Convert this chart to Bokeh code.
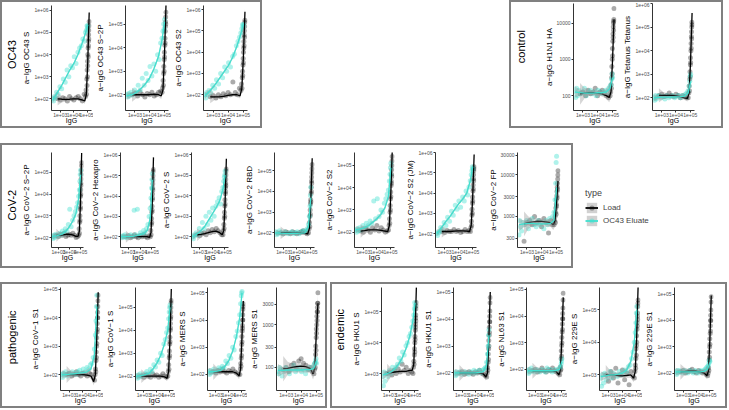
import math
from bokeh.plotting import figure
from bokeh.models import (Spacer, FixedTicker, CustomJSTickFormatter, Label,
                          Legend, LegendItem, ColumnDataSource, Range1d)
from bokeh.layouts import row, column
from bokeh.embed import file_html
from bokeh.resources import INLINE

# ---------------- data (log10 units) ----------------
LOAD_X = [2.8, 3.0, 3.18, 3.35, 3.52, 3.68, 3.84, 4.0, 4.16, 4.32, 4.48, 4.62, 4.76,
          4.86, 4.9, 4.93, 4.95, 4.97, 4.98, 5.0, 5.01, 5.02, 5.03, 5.05, 5.06, 5.07,
          5.08, 5.09, 5.1, 5.11, 5.12, 5.13]
ELUATE_X = [2.45, 2.5, 2.56, 2.63, 2.72, 2.84, 2.97, 3.1, 3.22, 3.36, 3.5, 3.63, 3.77,
            3.9, 4.03, 4.16, 4.3, 4.42, 4.55, 4.66, 4.76, 4.85, 4.92, 4.97, 5.0, 5.03]
LOAD_FIT_X = [2.8, 3.1, 3.4, 3.7, 4.0, 4.3, 4.6, 4.8, 4.92, 5.02, 5.13]
ELUATE_FIT_X = [2.45, 2.8, 3.1, 3.4, 3.7, 4.0, 4.3, 4.6, 4.85, 5.03]
LOAD_BAND = [0.3, 0.15, 0.09, 0.07, 0.07, 0.07, 0.09, 0.13, 0.15, 0.15, 0.2]
ELUATE_BAND = [0.15, 0.08, 0.06, 0.06, 0.06, 0.06, 0.07, 0.08, 0.12, 0.15]
X_LIM = (2.35, 5.3)
X_TICKS = [1e3, 1e4, 1e5]

OC43_S_LOAD = [2.0,1.95,2.05,2.0,1.9,2.1,2.0,1.95,2.05,2.1,2.0,1.9,2.2, 2.1,2.4,2.2,2.9,2.6,3.3,3.0,3.7,3.5,4.0,4.3,3.9,4.6,4.4,4.9,5.1,4.7,5.3,5.5]
OC43_S_ELUATE = [2.0,1.9,2.1,2.05,2.3,2.2,2.55,2.45,2.9,2.75,3.3,3.0,3.5,3.4,3.9,3.6,4.1,4.3,4.4,4.7,4.6,5.0,5.1,5.3,5.2,5.3]
OC43_S_LOAD_FIT = [2.0,1.98,1.97,1.98,2.0,2.0,1.95,1.9,2.2,3.6,5.9]
OC43_S_ELUATE_FIT = [1.95,2.3,2.6,2.95,3.3,3.6,4.0,4.5,4.95,5.35]

OC43_S2P_LOAD = [2.0,2.05,1.95,2.1,2.0,1.9,2.05,2.0,2.1,1.95,2.0,2.1,2.15, 2.1,2.3,2.6,2.4,2.9,3.2,3.0,3.5,3.8,3.6,4.1,4.4,4.2,4.7,4.9,5.1,5.3,5.0,5.5]
OC43_S2P_ELUATE = [2.0,1.9,2.05,1.95,2.1,2.0,2.2,2.1,2.4,2.2,2.7,2.4,2.9,2.6,3.2,2.8,3.3,3.0,3.7,3.5,4.2,4.4,4.7,5.0,4.8,5.2]
OC43_S2P_LOAD_FIT = [2.0,2.0,2.0,2.0,2.0,2.02,2.0,1.95,2.2,3.6,5.85]
OC43_S2P_ELUATE_FIT = [1.95,2.0,2.1,2.25,2.45,2.7,3.1,3.6,4.3,5.1]

OC43_S2_LOAD = [1.9,1.95,1.85,2.0,1.9,2.05,1.95,2.1,2.0,2.6,2.1,2.0,2.3, 2.2,2.5,2.3,2.8,3.1,2.9,3.4,3.7,3.5,4.0,4.2,4.5,4.3,4.8,5.0,4.7,5.2,5.4,5.5]
OC43_S2_ELUATE = [2.0,1.85,2.1,2.0,2.2,2.1,2.45,2.3,2.7,2.5,3.0,2.8,3.3,3.1,3.5,3.3,3.8,3.9,4.3,4.5,4.7,4.9,5.1,5.3,5.2,5.3]
OC43_S2_LOAD_FIT = [1.9,1.9,1.9,1.92,1.97,2.0,2.0,1.95,2.3,3.7,5.9]
OC43_S2_ELUATE_FIT = [1.95,2.2,2.45,2.75,3.05,3.35,3.75,4.3,4.85,5.35]

H1N1_HA_LOAD = [2.05,2.1,2.0,2.15,2.05,2.1,2.2,2.0,2.1,2.15,2.05,2.0,1.95, 2.0,2.1,2.3,2.2,2.5,2.8,2.6,3.0,3.3,3.1,3.5,3.7,3.6,3.9,4.0,3.8,4.05,4.1,4.4]
H1N1_HA_ELUATE = [2.1,1.95,2.2,2.0,2.15,2.05,2.1,2.2,2.0,2.1,2.15,2.05,2.1,2.0,2.15,2.1,2.05,2.1,2.15,2.1,2.2,2.25,2.3,2.45,2.6,2.5]
H1N1_HA_LOAD_FIT = [2.05,2.07,2.08,2.08,2.07,2.05,2.0,1.95,2.1,2.9,4.1]
H1N1_HA_ELUATE_FIT = [2.1,2.08,2.07,2.07,2.07,2.08,2.08,2.1,2.2,2.5]

TETANUS_LOAD = [2.1,2.15,2.05,2.1,2.2,2.1,2.05,2.15,2.1,2.0,2.1,2.05,2.0, 2.0,2.2,2.5,2.3,2.8,3.1,2.9,3.4,3.7,3.5,4.0,4.3,4.1,4.6,4.8,4.5,5.0,5.2,5.1]
TETANUS_ELUATE = [2.0,1.9,2.1,1.95,2.05,2.1,2.0,2.05,1.95,2.1,2.0,2.05,2.1,2.0,2.05,2.1,2.0,2.1,2.05,2.15,2.2,2.3,2.5,2.7,2.9,3.0]
TETANUS_LOAD_FIT = [2.1,2.1,2.1,2.1,2.08,2.05,2.0,1.97,2.2,3.5,5.6]
TETANUS_ELUATE_FIT = [2.0,2.02,2.03,2.03,2.03,2.04,2.05,2.07,2.2,2.7]

COV2_S2P_LOAD = [2.1,2.05,2.15,2.1,2.2,2.05,2.1,2.15,2.1,2.2,2.1,2.0,2.05, 2.1,2.4,2.2,2.7,3.0,2.8,3.3,3.6,3.4,3.9,4.2,4.0,4.5,4.7,4.4,4.9,5.1,5.3,5.45]
COV2_S2P_ELUATE = [2.05,1.95,2.1,2.0,2.15,2.05,2.1,2.2,2.1,2.3,2.2,2.4,2.3,2.6,3.3,2.5,2.8,3.0,3.2,3.4,3.6,3.9,4.2,4.6,4.9,5.1]
COV2_S2P_LOAD_FIT = [2.1,2.1,2.12,2.15,2.15,2.12,2.05,2.05,2.3,3.6,5.9]
COV2_S2P_ELUATE_FIT = [2.05,2.08,2.12,2.18,2.3,2.5,2.75,3.1,3.8,4.9]

COV2_HEXAPRO_LOAD = [2.0,2.05,1.95,2.0,2.1,2.0,1.95,2.05,2.0,2.1,2.0,1.95,2.05, 2.0,2.3,2.1,2.6,2.9,2.7,3.2,3.5,3.3,3.8,4.1,3.9,4.4,4.6,4.3,4.8,5.0,5.2,5.3]
COV2_HEXAPRO_ELUATE = [2.0,1.95,2.05,2.0,2.1,1.95,2.0,2.05,2.1,2.0,3.3,2.1,3.35,2.05,2.2,2.1,2.3,2.2,2.4,2.6,3.0,3.4,3.9,4.4,4.8,5.1]
COV2_HEXAPRO_LOAD_FIT = [2.0,2.0,2.0,2.0,2.0,2.0,2.0,1.97,2.2,3.5,5.9]
COV2_HEXAPRO_ELUATE_FIT = [2.0,2.0,2.0,2.02,2.05,2.1,2.15,2.3,2.9,4.8]

COV2_S_LOAD = [2.1,2.05,2.15,2.2,2.1,2.3,2.2,2.35,2.25,2.4,2.3,2.2,2.1, 2.1,2.3,2.6,2.4,2.9,3.2,3.0,3.5,3.8,3.6,4.1,4.4,4.2,4.6,4.8,4.5,5.0,5.2,5.3]
COV2_S_ELUATE = [2.0,1.9,2.1,2.05,2.2,2.1,2.4,2.2,2.7,2.4,3.0,2.6,3.2,2.8,3.4,3.0,3.5,3.7,3.9,3.6,4.2,4.4,4.7,4.9,5.0,5.2]
COV2_S_LOAD_FIT = [2.1,2.12,2.15,2.2,2.25,2.28,2.2,2.1,2.3,3.5,5.8]
COV2_S_ELUATE_FIT = [2.0,2.15,2.3,2.5,2.8,3.1,3.4,3.75,4.3,5.0]

COV2_RBD_LOAD = [2.0,1.95,2.05,2.0,1.95,2.05,2.0,1.95,2.0,2.05,2.1,2.0,1.95, 2.0,2.2,2.5,2.3,2.8,3.1,2.9,3.4,3.6,3.5,3.9,4.2,4.0,4.5,4.7,4.4,4.9,5.1,5.3]
COV2_RBD_ELUATE = [2.05,1.9,2.0,1.95,2.1,2.0,1.95,2.05,2.0,1.95,2.0,2.05,1.95,2.0,2.05,1.95,2.0,2.1,2.05,2.1,2.2,2.4,2.8,3.3,3.8,4.2]
COV2_RBD_LOAD_FIT = [2.0,2.0,1.99,1.98,1.98,1.98,1.97,1.95,2.2,3.4,5.6]
COV2_RBD_ELUATE_FIT = [2.0,1.98,1.97,1.97,1.97,1.97,1.98,2.0,2.3,3.7]

COV2_S2_LOAD = [2.05,2.0,2.15,2.1,2.0,2.2,2.1,2.3,2.05,2.2,2.1,2.0,2.05, 2.1,2.3,2.6,2.4,2.9,3.2,3.0,3.5,3.8,3.6,4.1,4.3,4.2,4.6,4.8,4.5,5.0,5.2,5.4]
COV2_S2_ELUATE = [2.1,2.0,2.15,2.05,2.2,2.1,2.3,2.2,2.4,2.3,2.5,2.4,3.4,2.6,3.5,2.7,3.0,2.9,3.3,3.5,3.7,3.9,4.3,4.6,4.9,5.1]
COV2_S2_LOAD_FIT = [2.05,2.07,2.1,2.1,2.1,2.08,2.05,2.02,2.3,3.6,5.6]
COV2_S2_ELUATE_FIT = [2.1,2.15,2.2,2.3,2.45,2.6,2.8,3.1,3.6,4.9]

COV2_S2JM_LOAD = [2.1,2.05,2.15,2.1,2.1,2.2,2.1,2.15,2.05,2.1,2.2,2.1,2.15, 2.1,2.3,2.6,2.4,2.9,3.2,3.0,3.5,3.8,3.6,4.1,4.4,4.2,4.7,4.9,4.6,5.1,5.2,5.3]
COV2_S2JM_ELUATE = [2.0,1.9,2.1,2.05,2.3,2.2,2.55,2.4,2.8,2.6,3.1,2.9,3.4,3.2,3.6,3.3,3.8,3.6,4.1,3.9,4.3,4.6,4.9,5.1,5.3,5.2]
COV2_S2JM_LOAD_FIT = [2.1,2.1,2.1,2.12,2.13,2.13,2.12,2.1,2.4,3.7,5.9]
COV2_S2JM_ELUATE_FIT = [2.0,2.3,2.6,2.85,3.15,3.45,3.7,4.0,4.6,5.3]

COV2_FP_LOAD = [2.4,2.85,2.9,2.8,3.0,2.85,2.9,2.75,2.95,2.85,2.6,2.9,2.8, 2.8,2.9,3.0,2.85,3.1,3.2,3.05,3.3,3.4,3.25,3.5,3.6,3.45,3.7,3.8,3.65,3.9,4.0,4.1]
COV2_FP_ELUATE = [2.55,2.9,2.75,2.65,2.85,2.8,2.9,2.7,2.85,2.95,2.8,2.75,2.9,2.8,2.85,2.7,2.9,2.8,2.95,2.85,3.0,3.1,3.4,3.8,4.3,4.45]
COV2_FP_LOAD_FIT = [2.82,2.85,2.87,2.88,2.88,2.87,2.85,2.8,2.9,3.3,3.85]
COV2_FP_ELUATE_FIT = [2.8,2.82,2.83,2.83,2.82,2.82,2.82,2.83,2.9,3.7]

COV1_S1_LOAD = [2.0,2.05,1.95,2.0,2.1,2.0,1.95,2.05,2.0,1.95,2.05,2.0,1.9, 1.8,2.0,2.2,2.1,2.5,2.8,2.6,3.0,3.3,3.1,3.5,3.8,3.6,4.0,4.2,4.0,4.4,4.6,4.8]
COV1_S1_ELUATE = [2.0,1.9,2.05,2.0,2.1,1.95,2.05,2.0,2.1,2.05,2.0,2.1,2.15,2.05,2.2,2.1,2.25,2.2,2.35,2.4,2.6,2.9,3.4,3.9,4.4,4.8]
COV1_S1_LOAD_FIT = [2.0,2.0,2.0,2.0,2.0,1.98,1.95,1.75,2.0,3.2,4.9]
COV1_S1_ELUATE_FIT = [2.0,2.0,2.02,2.03,2.05,2.07,2.1,2.2,2.7,4.4]

COV1_S_LOAD = [2.0,1.95,2.05,2.0,1.95,2.1,2.0,2.05,1.95,2.0,2.1,2.0,1.95, 2.0,2.2,2.5,2.3,2.8,3.1,2.9,3.4,3.7,3.5,4.0,4.3,4.1,4.5,4.8,4.6,5.0,5.2,5.3]
COV1_S_ELUATE = [2.0,1.9,2.05,1.95,2.1,2.0,2.05,2.1,2.2,2.1,2.3,2.2,2.5,2.4,2.7,2.6,3.0,2.9,3.4,3.6,3.9,4.1,4.5,4.8,5.0,5.1]
COV1_S_LOAD_FIT = [2.0,2.0,2.0,2.0,2.0,2.0,1.97,1.9,2.2,3.5,5.8]
COV1_S_ELUATE_FIT = [2.0,2.02,2.06,2.12,2.3,2.55,2.9,3.4,4.0,5.0]

MERS_S_LOAD = [2.1,2.05,2.15,2.1,2.2,2.1,2.05,2.15,2.1,2.2,2.1,2.05,2.0, 2.0,2.2,2.4,2.3,2.6,2.9,2.7,3.1,3.4,3.2,3.6,3.8,3.7,4.0,4.2,4.0,4.4,4.5,4.6]
MERS_S_ELUATE = [2.1,2.0,2.15,2.05,2.1,2.2,2.1,2.15,2.25,2.2,2.3,2.25,2.5,2.4,2.7,2.6,3.0,2.9,3.4,3.6,3.9,4.2,4.6,4.9,5.0,5.05]
MERS_S_LOAD_FIT = [2.1,2.1,2.1,2.1,2.1,2.1,2.05,1.95,2.2,3.3,4.7]
MERS_S_ELUATE_FIT = [2.1,2.1,2.12,2.15,2.3,2.5,2.85,3.4,4.1,5.0]

MERS_S1_LOAD = [1.95,2.0,1.9,2.05,2.1,2.0,2.15,2.2,2.1,2.05,1.95,2.0,1.9, 1.85,1.95,2.1,2.0,2.3,2.5,2.4,2.7,2.9,2.8,3.0,3.2,3.1,3.3,3.4,3.3,3.5,3.5,3.75]
MERS_S1_ELUATE = [1.9,1.85,2.0,1.95,1.8,1.9,2.0,1.95,1.85,1.95,2.05,1.9,1.95,2.0,1.9,1.95,1.85,1.95,2.0,1.95,2.0,2.05,2.1,2.15,2.2,2.1]
MERS_S1_LOAD_FIT = [1.97,1.98,2.0,2.02,2.03,2.02,1.98,1.85,2.0,2.8,3.5]
MERS_S1_ELUATE_FIT = [1.93,1.93,1.94,1.94,1.94,1.94,1.95,1.95,1.98,2.15]

HKU1_S_LOAD = [3.0,3.05,2.95,3.1,3.0,3.15,3.05,3.3,3.1,3.2,3.0,3.1,3.05, 3.0,3.2,3.4,3.3,3.6,3.8,3.7,4.0,4.2,4.1,4.4,4.6,4.5,4.8,4.9,4.7,5.1,5.2,5.3]
HKU1_S_ELUATE = [2.9,2.6,3.05,2.75,3.0,2.9,3.1,3.0,3.2,3.1,3.2,3.3,3.5,3.4,3.7,3.6,3.9,4.0,4.2,4.3,4.5,4.7,4.9,5.1,5.3,5.2]
HKU1_S_LOAD_FIT = [3.02,3.03,3.05,3.06,3.07,3.07,3.1,3.1,3.3,4.2,5.8]
HKU1_S_ELUATE_FIT = [2.95,3.0,3.05,3.15,3.3,3.5,3.8,4.2,4.7,5.3]

HKU1_S1_LOAD = [2.0,2.05,1.95,2.0,2.05,2.0,1.95,2.05,2.0,2.1,2.0,1.95,1.9, 1.85,2.0,2.2,2.1,2.4,2.7,2.5,2.9,3.2,3.0,3.4,3.7,3.5,3.9,4.1,3.9,4.3,4.6,4.8]
HKU1_S1_ELUATE = [2.0,1.9,2.05,1.95,2.0,2.05,1.95,2.0,2.05,2.0,1.95,2.05,2.0,2.1,2.0,2.05,2.1,2.0,2.1,2.15,2.2,2.4,2.7,3.0,3.4,3.6]
HKU1_S1_LOAD_FIT = [2.0,2.0,2.0,2.0,2.0,2.0,1.97,1.85,2.0,3.2,5.0]
HKU1_S1_ELUATE_FIT = [2.0,2.0,2.0,2.0,2.0,2.0,2.02,2.05,2.3,3.4]

NL63_S1_LOAD = [1.95,2.0,1.9,1.95,2.05,1.95,1.9,2.0,1.95,2.05,1.95,1.9,1.85, 1.8,1.95,2.1,2.0,2.4,2.7,2.5,2.9,3.2,3.0,3.4,3.7,3.5,3.9,4.1,3.9,4.3,4.6,4.85]
NL63_S1_ELUATE = [1.95,1.85,2.0,1.9,2.05,1.95,1.9,2.0,1.95,1.9,2.0,1.95,1.9,2.05,1.95,2.0,1.9,1.95,2.0,1.95,2.0,2.05,2.1,2.2,2.3,2.4]
NL63_S1_LOAD_FIT = [1.95,1.95,1.95,1.95,1.95,1.95,1.92,1.8,2.0,3.1,4.7]
NL63_S1_ELUATE_FIT = [1.95,1.95,1.95,1.95,1.95,1.95,1.95,1.96,2.0,2.3]

E229_S_LOAD = [3.0,2.8,3.1,2.9,3.2,2.75,3.0,3.15,2.85,3.05,2.7,3.1,2.95, 2.9,3.1,3.3,3.2,3.5,3.8,3.6,3.9,4.2,4.0,4.4,4.6,4.5,4.8,4.9,4.7,5.1,5.2,5.3]
E229_S_ELUATE = [2.9,2.65,3.0,2.75,3.05,2.85,2.95,3.1,2.9,3.05,3.0,2.95,3.1,3.0,3.05,3.15,3.1,3.25,3.3,3.5,3.7,4.0,4.3,4.6,4.9,5.1]
E229_S_LOAD_FIT = [3.0,3.0,3.0,2.98,2.97,2.98,3.0,2.9,3.1,4.1,5.75]
E229_S_ELUATE_FIT = [2.95,2.97,3.0,3.0,3.02,3.05,3.15,3.4,4.0,5.0]

E229_S1_LOAD = [2.05,2.1,2.0,2.05,2.1,2.15,2.05,2.0,2.1,2.05,2.0,2.05,1.95, 1.9,2.0,2.2,2.1,2.5,2.8,2.6,3.0,3.3,3.1,3.5,3.8,3.6,4.0,4.2,4.0,4.4,4.7,4.9]
E229_S1_ELUATE = [2.05,1.95,2.1,2.0,2.1,2.05,2.0,2.1,2.05,2.0,2.1,2.05,2.0,2.1,2.05,2.0,2.1,2.05,2.1,2.15,2.2,2.25,2.3,2.4,2.5,2.45]
E229_S1_LOAD_FIT = [2.05,2.06,2.07,2.07,2.07,2.05,2.0,1.9,2.1,3.2,4.95]
E229_S1_ELUATE_FIT = [2.05,2.05,2.05,2.05,2.05,2.05,2.05,2.07,2.15,2.4]

EXP6 = [1e2, 1e3, 1e4, 1e5, 1e6]
EXP5 = [1e2, 1e3, 1e4, 1e5]
EXP345 = [1e3, 1e4, 1e5]

# y label, load, eluate, load fit, eluate fit, y limits (log10), ticks, label style
PANELS = {
    "OC43_S": ("a\u2212IgG OC43 S", OC43_S_LOAD, OC43_S_ELUATE, OC43_S_LOAD_FIT, OC43_S_ELUATE_FIT, (1.47, 6.22), EXP6, "exp"),
    "OC43_S2P": ("a\u2212IgG OC43 S\u22122P", OC43_S2P_LOAD, OC43_S2P_ELUATE, OC43_S2P_LOAD_FIT, OC43_S2P_ELUATE_FIT, (1.33, 5.79), EXP5, "exp"),
    "OC43_S2": ("a\u2212IgG OC43 S2", OC43_S2_LOAD, OC43_S2_ELUATE, OC43_S2_LOAD_FIT, OC43_S2_ELUATE_FIT, (1.26, 6.19), EXP6, "exp"),
    "H1N1_HA": ("a\u2212IgG H1N1 HA", H1N1_HA_LOAD, H1N1_HA_ELUATE, H1N1_HA_LOAD_FIT, H1N1_HA_ELUATE_FIT, (1.59, 4.54), [100, 1000, 10000], "plain"),
    "TETANUS": ("a\u2212IgG Tetanus Tetanus", TETANUS_LOAD, TETANUS_ELUATE, TETANUS_LOAD_FIT, TETANUS_ELUATE_FIT, (1.46, 6.0), EXP6, "exp"),
    "COV2_S2P": ("a\u2212IgG CoV\u22122 S\u22122P", COV2_S2P_LOAD, COV2_S2P_ELUATE, COV2_S2P_LOAD_FIT, COV2_S2P_ELUATE_FIT, (1.54, 5.92), EXP5, "exp"),
    "COV2_HEXAPRO": ("a\u2212IgG CoV\u22122 Hexapro", COV2_HEXAPRO_LOAD, COV2_HEXAPRO_ELUATE, COV2_HEXAPRO_LOAD_FIT, COV2_HEXAPRO_ELUATE_FIT, (1.47, 6.14), EXP6, "exp"),
    "COV2_S": ("a\u2212IgG CoV\u22122 S", COV2_S_LOAD, COV2_S_ELUATE, COV2_S_LOAD_FIT, COV2_S_ELUATE_FIT, (1.48, 6.1), EXP6, "exp"),
    "COV2_RBD": ("a\u2212IgG CoV\u22122 RBD", COV2_RBD_LOAD, COV2_RBD_ELUATE, COV2_RBD_LOAD_FIT, COV2_RBD_ELUATE_FIT, (1.29, 5.88), EXP5, "exp"),
    "COV2_S2": ("a\u2212IgG CoV\u22122 S2", COV2_S2_LOAD, COV2_S2_ELUATE, COV2_S2_LOAD_FIT, COV2_S2_ELUATE_FIT, (1.31, 5.58), EXP5, "exp"),
    "COV2_S2JM": ("a\u2212IgG CoV\u22122 S2 (JM)", COV2_S2JM_LOAD, COV2_S2JM_ELUATE, COV2_S2JM_LOAD_FIT, COV2_S2JM_ELUATE_FIT, (1.31, 6.0), EXP6, "exp"),
    "COV2_FP": ("a\u2212IgG CoV\u22122 FP", COV2_FP_LOAD, COV2_FP_ELUATE, COV2_FP_LOAD_FIT, COV2_FP_ELUATE_FIT, (2.25, 4.54), [300, 1000, 3000, 10000, 30000], "plain"),
    "COV1_S1": ("a\u2212IgG CoV\u22121 S1", COV1_S1_LOAD, COV1_S1_ELUATE, COV1_S1_LOAD_FIT, COV1_S1_ELUATE_FIT, (1.44, 5.07), EXP5, "exp"),
    "COV1_S": ("a\u2212IgG CoV\u22121 S", COV1_S_LOAD, COV1_S_ELUATE, COV1_S_LOAD_FIT, COV1_S_ELUATE_FIT, (1.37, 5.87), EXP5, "exp"),
    "MERS_S": ("a\u2212IgG MERS S", MERS_S_LOAD, MERS_S_ELUATE, MERS_S_LOAD_FIT, MERS_S_ELUATE_FIT, (1.41, 5.2), EXP5, "exp"),
    "MERS_S1": ("a\u2212IgG MERS S1", MERS_S1_LOAD, MERS_S1_ELUATE, MERS_S1_LOAD_FIT, MERS_S1_ELUATE_FIT, (1.46, 3.87), [100, 300, 1000, 3000], "plain"),
    "HKU1_S": ("a\u2212IgG HKU1 S", HKU1_S_LOAD, HKU1_S_ELUATE, HKU1_S_LOAD_FIT, HKU1_S_ELUATE_FIT, (2.45, 5.79), EXP345, "exp"),
    "HKU1_S1": ("a\u2212IgG HKU1 S1", HKU1_S1_LOAD, HKU1_S1_ELUATE, HKU1_S1_LOAD_FIT, HKU1_S1_ELUATE_FIT, (1.35, 5.17), EXP5, "exp"),
    "NL63_S1": ("a\u2212IgG NL63 S1", NL63_S1_LOAD, NL63_S1_ELUATE, NL63_S1_LOAD_FIT, NL63_S1_ELUATE_FIT, (1.21, 5.07), EXP5, "exp"),
    "E229_S": ("a\u2212IgG 229E S", E229_S_LOAD, E229_S_ELUATE, E229_S_LOAD_FIT, E229_S_ELUATE_FIT, (2.52, 5.68), EXP345, "exp"),
    "E229_S1": ("a\u2212IgG 229E S1", E229_S1_LOAD, E229_S1_ELUATE, E229_S1_LOAD_FIT, E229_S1_ELUATE_FIT, (1.34, 5.25), EXP5, "exp"),
}

# ---------------- layout (pixel geometry) ----------------
PAGE_W, PAGE_H = 727, 408

# panel: (y-axis x, frame right, frame top, frame bottom)
GEOM = {
    "OC43_S": (43, 91, 5, 112), "OC43_S2P": (120, 168, 5, 112), "OC43_S2": (198, 247, 5, 112),
    "H1N1_HA": (568, 616, 3, 112), "TETANUS": (647, 694, 3, 112),
    "COV2_S2P": (43, 83, 152, 247), "COV2_HEXAPRO": (115, 155, 150, 247), "COV2_S": (186, 228, 150, 247),
    "COV2_RBD": (269, 314, 145, 255), "COV2_S2": (349, 394, 145, 255), "COV2_S2JM": (430, 476, 145, 254),
    "COV2_FP": (512, 560, 145, 256),
    "COV1_S1": (55, 100, 285, 395), "COV1_S": (130, 173, 287, 395), "MERS_S": (198, 245, 285, 395),
    "MERS_S1": (268, 320, 284, 395),
    "HKU1_S": (373, 418, 287, 397), "HKU1_S1": (448, 492, 285, 397), "NL63_S1": (518, 565, 284, 397),
    "E229_S": (593, 640, 285, 397), "E229_S1": (668, 713, 285, 397),
}
GROUPS = {
    "OC43": dict(box=(0, 262, 0, 128), at=(11, 60), panels=["OC43_S", "OC43_S2P", "OC43_S2"]),
    "control": dict(box=(509, 723, 0, 128), at=(520, 52), panels=["H1N1_HA", "TETANUS"]),
    "CoV-2": dict(box=(0, 573, 143, 268), at=(11, 212),
                  panels=["COV2_S2P", "COV2_HEXAPRO", "COV2_S", "COV2_RBD", "COV2_S2", "COV2_S2JM", "COV2_FP"]),
    "pathogenic": dict(box=(0, 327, 282, 408), at=(11, 343), panels=["COV1_S1", "COV1_S", "MERS_S", "MERS_S1"]),
    "endemic": dict(box=(330, 727, 282, 408), at=(339, 334), panels=["HKU1_S", "HKU1_S1", "NL63_S1", "E229_S", "E229_S1"]),
}

FONT = "Liberation Sans"
TURQ = "#40E0D0"
BAND_COLOR = "#999999"
BORDER = "#808080"
T = 2
LEFT_SPACE = 27
LABEL_MIN_W = 17
PT = 5
LW = 1.3

EXP_FMT = "const e = Math.round(Math.log10(tick)); return '1e+' + (e < 10 ? '0' : '') + e;"
PLAIN_FMT = "return String(Math.round(tick));"


def bar(w, h):
    return Spacer(width=w, height=h, styles={"background-color": BORDER})


def style_axis(ax, label_size):
    ax.axis_line_color = "black"
    ax.axis_line_width = 0.8
    ax.major_tick_line_color = "#333333"
    ax.major_tick_out = 2
    ax.major_tick_in = 0
    ax.minor_tick_line_color = None
    ax.major_label_text_font = FONT
    ax.major_label_text_font_size = "5px"
    ax.major_label_text_color = "#4d4d4d"
    ax.major_label_text_line_height = 1.0
    ax.major_label_standoff = 1
    ax.axis_label_text_font = FONT
    ax.axis_label_text_font_size = label_size
    ax.axis_label_text_font_style = "normal"
    ax.axis_label_text_color = "#000000"
    ax.axis_label_text_line_height = 1.0
    ax.axis_label_standoff = 0


def panel_fig(name, w, h, ml, mr, mt, mb):
    ylab, load, elu, lfit, efit, ylim, ticks, style = PANELS[name]
    p = figure(width=w, height=h, x_axis_type="log", y_axis_type="log", title=None,
               x_range=Range1d(10 ** X_LIM[0], 10 ** X_LIM[1]),
               y_range=Range1d(10 ** ylim[0], 10 ** ylim[1]),
               min_border_left=ml, min_border_right=max(mr, 0), min_border_top=max(mt, 0),
               min_border_bottom=max(mb, 0), toolbar_location=None, output_backend="svg")
    p.outline_line_color = None
    p.grid.visible = False
    lx = [10 ** v for v in LOAD_X]
    ex = [10 ** v for v in ELUATE_X]
    p.scatter(lx, [10 ** v for v in load], size=PT, fill_color="black", fill_alpha=0.33, line_color=None)
    p.scatter(ex, [10 ** v for v in elu], size=PT, fill_color=TURQ, fill_alpha=0.42, line_color=None)
    for fx, fy, bw, col in ((LOAD_FIT_X, lfit, LOAD_BAND, "black"), (ELUATE_FIT_X, efit, ELUATE_BAND, TURQ)):
        xs = [10 ** v for v in fx]
        p.varea(x=xs, y1=[10 ** (a - b) for a, b in zip(fy, bw)], y2=[10 ** (a + b) for a, b in zip(fy, bw)],
                fill_color=BAND_COLOR, fill_alpha=0.4)
        p.line(xs, [10 ** v for v in fy], line_color=col, line_width=LW)
    p.xaxis.ticker = FixedTicker(ticks=X_TICKS)
    p.xaxis.formatter = CustomJSTickFormatter(code=EXP_FMT)
    p.yaxis.ticker = FixedTicker(ticks=ticks)
    p.yaxis.formatter = CustomJSTickFormatter(code=EXP_FMT if style == "exp" else PLAIN_FMT)
    p.xaxis.axis_label = "IgG"
    p.yaxis.axis_label = ylab
    style_axis(p.xaxis[0], "7px")
    style_axis(p.yaxis[0], "8px")
    p.xaxis.major_label_standoff = 0
    p.xaxis.axis_label_standoff = -3
    return p


def label_fig(text, w, h, cx, cy):
    p = figure(width=w, height=h, x_range=Range1d(0, w), y_range=Range1d(h, 0), title=None,
               min_border=0, toolbar_location=None, output_backend="svg",
               x_axis_location=None, y_axis_location=None)
    p.outline_line_color = None
    p.grid.visible = False
    p.add_layout(Label(x=cx, y=cy, text=text, angle=math.pi / 2, text_align="center",
                       text_baseline="middle", text_font=FONT, text_font_size="11px",
                       text_color="black"))
    return p


def make_box(gname):
    g = GROUPS[gname]
    X0, X1, Y0, Y1 = g["box"]
    W, H = X1 - X0, Y1 - Y0
    ih = H - 2 * T
    inL, inR, inT, inB = X0 + T, X1 - T, Y0 + T, Y1 - T
    names = g["panels"]
    A = [GEOM[n][0] for n in names]
    R = [GEOM[n][1] for n in names]
    bounds = []
    for i in range(len(names)):
        if i == 0:
            bounds.append(max(A[0] - LEFT_SPACE, inL + LABEL_MIN_W))
        else:
            bounds.append(max(A[i] - LEFT_SPACE, R[i - 1] + 2))
    bounds.append(inR)
    lw = bounds[0] - inL
    kids = [label_fig(gname, lw, ih, min(g["at"][0] - inL, lw - 7), g["at"][1] - inT)]
    for i, n in enumerate(names):
        w = bounds[i + 1] - bounds[i]
        kids.append(panel_fig(n, w, ih, A[i] - bounds[i], bounds[i + 1] - R[i],
                              GEOM[n][2] - inT, inB - GEOM[n][3]))
    mid = row([bar(T, ih)] + kids + [bar(T, ih)])
    return column([bar(W, T), mid, bar(W, T)])


def legend_fig(w, h):
    p = figure(width=w, height=h, x_range=Range1d(0, 1), y_range=Range1d(0, 1), title=None,
               min_border=0, toolbar_location=None, output_backend="svg",
               x_axis_location=None, y_axis_location=None)
    p.outline_line_color = None
    p.grid.visible = False
    items = []
    for lab, col, alpha in (("Load", "black", 0.33), ("OC43 Eluate", TURQ, 0.42)):
        # one point far outside the visible range, only so that the legend keys get drawn
        src = ColumnDataSource(dict(x=[-10.0], y=[-10.0], y1=[-10.0], y2=[-9.0]))
        rb = p.varea(x="x", y1="y1", y2="y2", source=src, fill_color=BAND_COLOR, fill_alpha=0.45)
        rp = p.scatter(x="x", y="y", source=src, size=PT + 1, fill_color=col, fill_alpha=alpha, line_color=None)
        rl = p.line(x="x", y="y", source=src, line_color=col, line_width=LW + 0.5)
        items.append(LegendItem(label=lab, renderers=[rb, rp, rl]))
    lx = 585 - 573
    ly = h - (188 - 143) - 39
    leg = Legend(items=items, title="type", location=(lx, ly), orientation="vertical",
                 border_line_color=None, background_fill_alpha=0, padding=0, margin=0, spacing=0,
                 glyph_width=13, glyph_height=13, label_height=13, label_standoff=5,
                 label_text_font=FONT, label_text_font_size="8px",
                 title_text_font=FONT, title_text_font_size="9px", title_text_font_style="normal",
                 title_standoff=3)
    p.add_layout(leg)
    return p


oc43 = make_box("OC43")
control = make_box("control")
cov2 = make_box("CoV-2")
patho = make_box("pathogenic")
endemic = make_box("endemic")

row1 = row([oc43, Spacer(width=509 - 262, height=128), control])
row2 = row([cov2, legend_fig(PAGE_W - 573, 268 - 143)])
row3 = row([patho, Spacer(width=330 - 327, height=408 - 282), endemic])
page = column([row1, Spacer(width=10, height=143 - 128), row2,
               Spacer(width=10, height=282 - 268), row3])

open("out.html", "w").write(file_html(page, INLINE))
